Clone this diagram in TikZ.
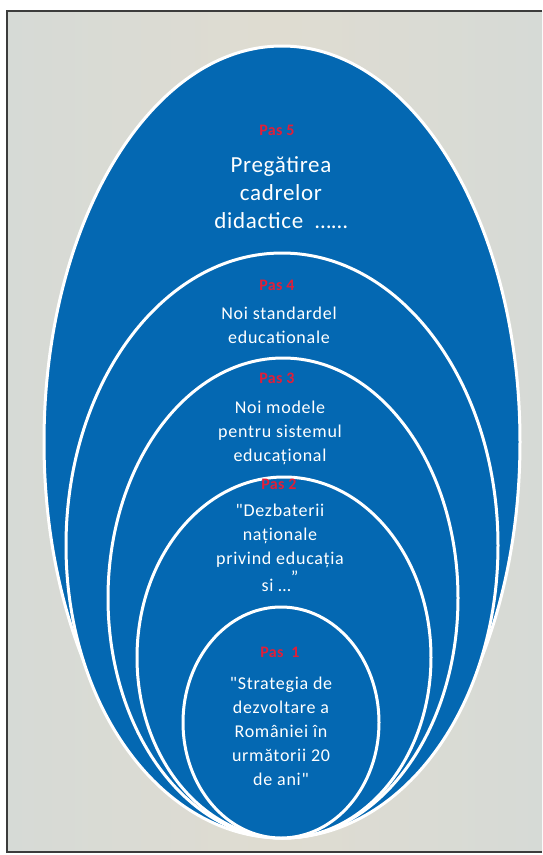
\documentclass[tikz,border=0pt]{standalone}
\usepackage{fontspec}
\setmainfont{Carlito}
\newfontfamily\bodyfont[LetterSpace=4]{Carlito}
\newfontfamily\bigfont[LetterSpace=3]{Carlito}
\newfontfamily\pasfont[LetterSpace=2]{Carlito Bold}
\usetikzlibrary{shapes.geometric}
\definecolor{bgbeige}{RGB}{223,220,209}
\definecolor{bgedge}{RGB}{214,218,214}
\definecolor{ringblue}{RGB}{4,104,178}
\definecolor{pasred}{RGB}{226,30,56}
\definecolor{framegray}{RGB}{60,60,60}
\begin{document}
\begin{tikzpicture}[x=1pt,y=-1pt,
  ring/.style={ellipse, draw=white, line width=3pt, fill=ringblue, inner sep=0pt, outer sep=0pt},
  paslabel/.style={text=pasred, font=\pasfont\fontsize{16}{18}\selectfont, inner sep=0pt},
  bodytext/.style={text=white, font=\bodyfont\fontsize{18}{24}\selectfont, align=center, inner sep=0pt},
  bigtext/.style={text=white, font=\bigfont\fontsize{23}{28}\selectfont, align=center, inner sep=0pt}]
\useasboundingbox (0,0) rectangle (542,855);
\fill[white] (0,0) rectangle (542,855);
\shade[left color=bgedge, right color=bgedge, middle color=bgbeige] (7,11) rectangle (542,852);
\draw[framegray, line width=1.3pt] (542,11) -- (7,11) -- (7,852) -- (542,852);
% nested ellipses
\node[ring, minimum width=476pt, minimum height=792pt] (e5) at (282,442) {};
\node[ring, minimum width=432pt, minimum height=585pt] (e4) at (282,545.5) {};
\node[ring, minimum width=350pt, minimum height=480pt] (e3) at (283,598) {};
\node[ring, minimum width=294pt, minimum height=361pt] (e2) at (284,657.5) {};
\node[ring, minimum width=196pt, minimum height=231pt] (e1) at (281,722.5) {};
% Pas 5
\node[paslabel] (p5) at (277,130) {Pas 5};
\node[bigtext, anchor=north] (t5) at (281,156) {Pregătirea\\cadrelor\\didactice \ ……};
% Pas 4
\node[paslabel] (p4) at (277,285) {Pas 4};
\node[bodytext, anchor=north] (t4) at (279,307) {Noi standardel\\educationale};
% Pas 3
\node[paslabel] (p3) at (277,378) {Pas 3};
\node[bodytext, anchor=north] (t3) at (280,401) {Noi modele\\pentru sistemul\\educațional};
% Pas 2
\node[paslabel] (p2) at (279,484) {Pas 2};
\node[bodytext, anchor=north] (t2) at (280,504) {"Dezbaterii\\naționale\\privind educația\\[3pt]si …\raisebox{8pt}{”}};
% Pas 1
\node[paslabel] (p1) at (280,652) {Pas \ 1};
\node[bodytext, anchor=north] (t1) at (281,677) {"Strategia de\\dezvoltare a\\României în\\următorii 20\\de ani"};
\end{tikzpicture}
\end{document}
